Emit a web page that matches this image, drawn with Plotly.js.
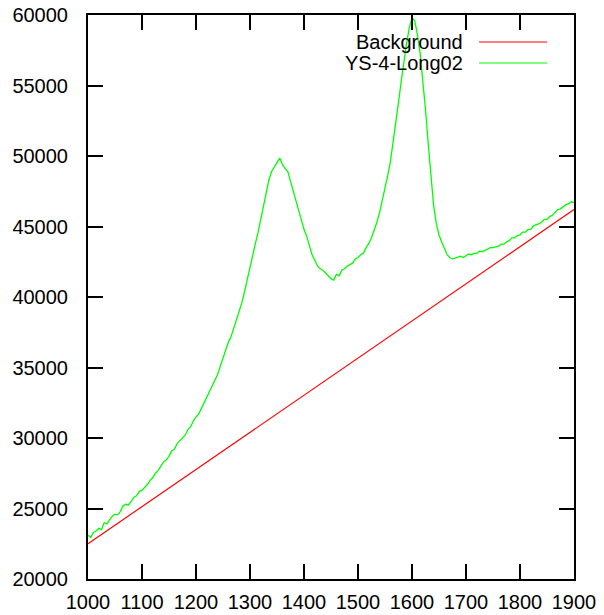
<!DOCTYPE html>
<html>
<head>
<meta charset="utf-8">
<script src="https://cdn.plot.ly/plotly-3.0.1.min.js"></script>
<style>html,body{margin:0;padding:0;background:#fff;}#chart{width:604px;height:615px;}</style>
</head>
<body>
<div id="chart"></div>
<script>
var seriesNames = ["Background", "YS-4-Long02"];
var bgX = [1000, 1900];
var bgY = [22500, 46200];
var specX = [1000,1005,1010,1015,1020,1025,1030,1035,1040,1045,1050,1055,1060,1065,1070,1075,1080,1085,1090,1095,
1100,1105,1110,1115,1120,1125,1130,1135,1140,1145,1150,1155,1160,1165,1170,1175,1180,1185,1190,1195,
1200,1205,1210,1215,1220,1225,1230,1235,1240,1245,1250,1255,1260,1265,1270,1275,1280,1285,1290,1295,
1300,1305,1310,1315,1320,1325,1330,1335,1340,1345,1350,1355,1360,1365,1370,1375,1380,1385,1390,1395,
1400,1405,1410,1415,1420,1425,1430,1435,1440,1445,1450,1455,1460,1465,1470,1475,1480,1485,1490,1495,
1500,1505,1510,1515,1520,1525,1530,1535,1540,1545,1550,1555,1560,1565,1570,1575,1580,1585,1590,1595,
1600,1605,1610,1615,1620,1625,1630,1635,1640,1645,1650,1655,1660,1665,1670,1675,1680,1685,1690,1695,
1700,1705,1710,1715,1720,1725,1730,1735,1740,1745,1750,1755,1760,1765,1770,1775,1780,1785,1790,1795,
1800,1805,1810,1815,1820,1825,1830,1835,1840,1845,1850,1855,1860,1865,1870,1875,1880,1885,1890,1895,1900];
var specY = [23100,22950,23300,23400,23600,23500,24000,23900,24200,24450,24600,24550,24800,25200,25300,25250,25500,25800,25900,26200,
26300,26500,26700,27000,27200,27500,27700,28000,28300,28450,28700,29100,29200,29600,29800,30000,30200,30600,30800,31200,
31500,31700,32100,32500,32800,33200,33600,34100,34500,35100,35700,36300,36800,37200,37800,38400,38900,39600,40400,41300,
42000,42900,43800,44600,45500,46500,47400,48300,48900,49200,49500,49850,49400,49100,48900,48200,47400,46800,46000,45300,
44800,44300,43600,43000,42600,42200,42000,41900,41700,41500,41300,41200,41600,41500,41900,42000,42200,42300,42400,42700,
42800,43000,43100,43500,43800,44200,44700,45300,46000,46800,47600,48600,49600,50900,52300,53800,55300,56700,58000,59100,
59800,59600,58600,57300,55500,53300,50900,48400,46500,45200,44400,43900,43400,43000,42800,42700,42750,42850,42900,42800,
42900,43050,43000,43100,43100,43250,43200,43300,43350,43500,43500,43550,43600,43750,43750,43900,44000,44200,44200,44350,
44400,44600,44600,44800,44800,45050,45100,45200,45300,45500,45500,45700,45800,46000,46200,46250,46400,46550,46600,46750,46700];
var xTicks = [1000,1100,1200,1300,1400,1500,1600,1700,1800,1900];
var yTicks = [20000,25000,30000,35000,40000,45000,50000,55000,60000];
var colors = ["#ff0000", "#00ff00"];

var traces = [
  {x: bgX, y: bgY, type: "scatter", mode: "lines", name: seriesNames[0], line: {color: colors[0], width: 1.2}, showlegend: false},
  {x: specX, y: specY, type: "scatter", mode: "lines", name: seriesNames[1], line: {color: colors[1], width: 1.3}, showlegend: false}
];

var axisCommon = {
  showgrid: false, zeroline: false, showline: true, linecolor: "#000", linewidth: 2,
  mirror: "allticks", ticks: "inside", ticklen: 15, tickwidth: 2, tickcolor: "#000",
  tickfont: {family: "Liberation Sans, Arial, sans-serif", size: 20, color: "#000"},
  tickformat: "d", tickmode: "array"
};

var legendLineX0 = 0.8045, legendLineX1 = 0.9444, legendTextX = 0.7757;
var legendRowY = [0.9521, 0.9149];

var layout = {
  width: 604, height: 615,
  margin: {l: 88, r: 30, t: 15, b: 36},
  paper_bgcolor: "#fff", plot_bgcolor: "#fff",
  xaxis: Object.assign({}, axisCommon, {range: [1000, 1900], tickvals: xTicks, ticklabelstandoff: 4}),
  yaxis: Object.assign({}, axisCommon, {range: [20000, 60000], tickvals: yTicks, ticklabelstandoff: 14}),
  annotations: seriesNames.map(function(n, i){
    return {xref: "paper", yref: "paper", x: legendTextX, y: legendRowY[i], text: n, showarrow: false,
      xanchor: "right", yanchor: "middle", font: {family: "Liberation Sans, Arial, sans-serif", size: 20, color: "#000"}};
  }),
  shapes: seriesNames.map(function(n, i){
    return {type: "line", xref: "paper", yref: "paper", x0: legendLineX0, x1: legendLineX1, y0: legendRowY[i], y1: legendRowY[i],
      line: {color: colors[i], width: 1.2}};
  }),
  showlegend: false
};

Plotly.newPlot("chart", traces, layout, {staticPlot: true, displayModeBar: false});
</script>
</body>
</html>
